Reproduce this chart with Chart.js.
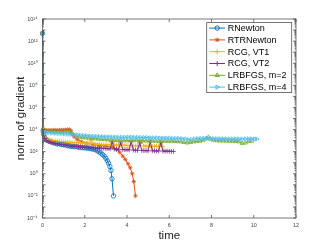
<!DOCTYPE html>
<html>
<head>
<meta charset="utf-8">
<script src="https://cdn.jsdelivr.net/npm/chart.js@4.4.1/dist/chart.umd.min.js"></script>
<style>
html, body { margin: 0; padding: 0; background: #fff; }
canvas { display: block; }
</style>
</head>
<body>
<canvas id="gradChart" width="327" height="245"></canvas>
<script>
// values: time (x) and norm of gradient (y)
const tRNewton = [0, 0.03, 0.06, 0.1, 0.15, 0.2, 0.3, 0.4, 0.5, 0.6,
    0.7, 0.8, 0.9, 1.0, 1.1, 1.2, 1.3, 1.4, 1.5, 1.6,
    1.7, 1.8, 1.9, 2.0, 2.1, 2.2, 2.3, 2.4, 2.5, 2.6,
    2.68, 2.76, 2.84, 2.92, 3.0, 3.07, 3.13, 3.19, 3.24, 3.29,
    3.36];
const gRNewton = [5e12, 8e3, 3.5e3, 2e3, 1.3e3, 1.1e3, 9e2, 8e2, 6.5e2, 6e2,
    5e2, 5.5e2, 4.5e2, 4.2e2, 4e2, 3.4e2, 3.2e2, 3e2, 2.8e2, 2.9e2,
    2.5e2, 2.4e2, 2.3e2, 2.2e2, 2.1e2, 2e2, 1.8e2, 1.7e2, 1.5e2, 1.2e2,
    95, 75, 55, 40, 25, 15, 9, 4.5, 2, 0.35,
    0.01];

const tRTRNewton = [0, 0.03, 0.1, 0.2, 0.3, 0.4, 0.5, 0.6, 0.7, 0.8,
    0.9, 1.0, 1.1, 1.2, 1.28, 1.34, 1.4, 1.5, 1.65, 1.85,
    2.1, 2.4, 2.7, 3.0, 3.3, 3.5, 3.65, 3.8, 3.92, 4.05,
    4.15, 4.25, 4.32, 4.4];
const gRTRNewton = [5e12, 1.25e4, 9e3, 8.5e3, 8.7e3, 8.5e3, 8.8e3, 9e3, 8.5e3, 9e3,
    9.2e3, 9e3, 9.5e3, 1e4, 1e4, 8e3, 4.5e3, 2.2e3, 1.25e3, 8e2,
    5.6e2, 4.5e2, 3.5e2, 3.2e2, 2.5e2, 1.6e2, 90, 40, 20, 8,
    3.5, 1, 0.2, 0.01];

const tRCG1 = [0, 0.04, 0.1, 0.2, 0.3, 0.4, 0.5, 0.6, 0.7, 0.8,
    0.9, 1.0, 1.1, 1.2, 1.3, 1.4, 1.5, 1.6, 1.7, 1.8,
    1.9, 2.0, 2.1, 2.2, 2.3, 2.4, 2.5, 2.6, 2.7, 2.8,
    2.9, 3.0, 3.1, 3.2, 3.3, 3.4, 3.5, 3.6, 3.7, 3.8,
    3.9, 4.0, 4.1, 4.2, 4.3, 4.4, 4.5, 4.6, 4.7, 4.8,
    4.9, 5.0, 5.1, 5.2, 5.3, 5.4, 5.5, 5.6, 5.7];
const gRCG1 = [5e12, 6.3e3, 2e3, 1.4e3, 1.2e3, 1.1e3, 1e3, 9.5e2, 9e2, 8.5e2,
    8e2, 7.8e2, 7.6e2, 7.2e2, 7e2, 6.8e2, 6.6e2, 6.5e2, 6.3e2, 6.2e2,
    6e2, 5.8e2, 5.6e2, 5.4e2, 1e3, 5.2e2, 5e2, 4.8e2, 4.7e2, 4.5e2,
    4.4e2, 4.3e2, 4.3e2, 4.2e2, 9e2, 4e2, 4e2, 4e2, 3.9e2, 3.8e2,
    3.8e2, 3.7e2, 3.6e2, 3.5e2, 3.5e2, 3.5e2, 3.4e2, 3.3e2, 8e2, 3.2e2,
    3.2e2, 3.2e2, 3.1e2, 3e2, 3.1e2, 3.2e2, 3e2, 7e2, 2.8e2];

const tRCG2 = [0, 0.04, 0.1, 0.2, 0.3, 0.4, 0.5, 0.6, 0.7, 0.8,
    0.9, 1.0, 1.1, 1.2, 1.3, 1.4, 1.5, 1.6, 1.7, 1.8,
    1.9, 2.0, 2.1, 2.2, 2.3, 2.4, 2.5, 2.6, 2.7, 2.8,
    2.9, 3.0, 3.1, 3.2, 3.3, 3.4, 3.5, 3.6, 3.7, 3.8,
    3.9, 4.0, 4.1, 4.2, 4.3, 4.4, 4.5, 4.6, 4.7, 4.8,
    4.9, 5.0, 5.1, 5.2, 5.3, 5.4, 5.5, 5.6, 5.7, 5.8,
    5.9, 6.0, 6.1, 6.2];
const gRCG2 = [5e12, 5e3, 1.6e3, 1e3, 8e2, 7e2, 6e2, 5.6e2, 5e2, 4.8e2,
    4.5e2, 4.2e2, 4e2, 3.7e2, 3.5e2, 3.3e2, 3.2e2, 3e2, 2.8e2, 2.7e2,
    2.6e2, 2.5e2, 2.5e2, 2.4e2, 2.3e2, 2.3e2, 2.2e2, 2.2e2, 2.1e2, 2e2,
    2e2, 1.9e2, 1.9e2, 1.8e2, 8e2, 1.7e2, 1.65e2, 1.6e2, 6.3e2, 1.55e2,
    1.5e2, 1.5e2, 1.45e2, 8e2, 1.4e2, 1.35e2, 1.3e2, 6.3e2, 1.3e2, 1.25e2,
    1.25e2, 1.2e2, 8e2, 1.2e2, 1.2e2, 1.15e2, 1.15e2, 6.3e2, 1.15e2, 1.1e2,
    1.1e2, 1.1e2, 1.05e2, 1.05e2];

const tLBFGS2 = [0, 0.04, 0.15, 0.3, 0.45, 0.6, 0.75, 0.9, 1.05, 1.2,
    1.32, 1.45, 1.6, 1.75, 1.9, 2.05, 2.2, 2.35, 2.5, 2.65,
    2.8, 2.95, 3.1, 3.25, 3.4, 3.55, 3.7, 3.85, 4.0, 4.15,
    4.3, 4.45, 4.6, 4.75, 4.9, 5.05, 5.2, 5.35, 5.5, 5.65,
    5.8, 5.95, 6.1, 6.25, 6.4, 6.55, 6.7, 6.85, 7.0, 7.15,
    7.3, 7.45, 7.6, 7.75, 7.85, 7.95, 8.1, 8.25, 8.4, 8.55,
    8.7, 8.85, 9.0, 9.15, 9.3, 9.45, 9.6, 9.75, 9.9];
const gLBFGS2 = [5e12, 8.9e3, 7e3, 6.5e3, 6.3e3, 6e3, 6e3, 5.8e3, 6e3, 6.3e3,
    6e3, 3.5e3, 2.5e3, 2.1e3, 1.9e3, 1.8e3, 1.7e3, 1.6e3, 1.5e3, 1.4e3,
    1.3e3, 1.25e3, 1.2e3, 1.1e3, 1.1e3, 1.05e3, 1.1e3, 1e3, 1e3, 1.05e3,
    1e3, 1.1e3, 1e3, 1e3, 9.5e2, 9.5e2, 9.3e2, 9e2, 9e2, 9.5e2,
    9e2, 8.8e2, 9e2, 8.5e2, 8.3e2, 8e2, 7e2, 6.3e2, 7e2, 8e2,
    8.5e2, 9e2, 1.1e3, 1.5e3, 2e3, 1.4e3, 1.1e3, 1e3, 9.5e2, 9.5e2,
    9.3e2, 9e2, 9e2, 8.5e2, 8e2, 5.6e2, 6.3e2, 8.5e2, 9e2];

const tLBFGS4 = [0, 0.04, 0.15, 0.3, 0.45, 0.6, 0.75, 0.9, 1.05, 1.2,
    1.35, 1.5, 1.65, 1.8, 1.95, 2.1, 2.25, 2.4, 2.55, 2.7,
    2.85, 3.0, 3.15, 3.3, 3.45, 3.6, 3.75, 3.9, 4.05, 4.2,
    4.35, 4.5, 4.65, 4.8, 4.95, 5.1, 5.25, 5.4, 5.55, 5.7,
    5.85, 6.0, 6.15, 6.3, 6.45, 6.6, 6.75, 6.9, 7.05, 7.2,
    7.35, 7.5, 7.65, 7.8, 7.95, 8.1, 8.25, 8.4, 8.55, 8.7,
    8.85, 9.0, 9.15, 9.3, 9.45, 9.6, 9.75, 9.9, 10.05, 10.15];
const gLBFGS4 = [5e12, 7.9e3, 5.6e3, 5.2e3, 4.8e3, 4.5e3, 4.3e3, 4.1e3, 4e3, 3.8e3,
    3.7e3, 3.5e3, 3.3e3, 3.1e3, 2.9e3, 2.8e3, 2.6e3, 2.5e3, 2.5e3, 2.4e3,
    2.3e3, 2.2e3, 2.2e3, 2.1e3, 2.1e3, 2e3, 2e3, 2e3, 2.1e3, 2.1e3,
    2e3, 2e3, 1.9e3, 1.9e3, 1.9e3, 1.8e3, 1.8e3, 1.8e3, 1.7e3, 1.7e3,
    1.7e3, 1.7e3, 1.6e3, 1.6e3, 1.6e3, 1.5e3, 1.4e3, 1.25e3, 1.3e3, 1.45e3,
    1.55e3, 1.6e3, 1.6e3, 1.6e3, 1.55e3, 1.5e3, 1.5e3, 1.5e3, 1.45e3, 1.4e3,
    1.4e3, 1.4e3, 1.45e3, 1.4e3, 1.4e3, 1.45e3, 1.5e3, 1.45e3, 1.4e3, 1.4e3];

const seriesNames = ['RNewton', 'RTRNewton', 'RCG, VT1', 'RCG, VT2', 'LRBFGS, m=2', 'LRBFGS, m=4'];
const xTicks = [0, 2, 4, 6, 8, 10, 12];
const yTicks = [1e-4, 1e-2, 1e0, 1e2, 1e4, 1e6, 1e8, 1e10, 1e12, 1e14];
const yTickLabels = ['10⁻⁴', '10⁻²', '10⁰', '10²', '10⁴', '10⁶', '10⁸', '10¹⁰', '10¹²', '10¹⁴'];

const colors = ['#0072BD', '#D95319', '#EDB120', '#7E2F8E', '#77AC30', '#4DBEEE'];
const markers = [
    { style: 'circle', rot: 0, r: 2.2 },
    { style: 'star', rot: 0, r: 2.2 },
    { style: 'cross', rot: 0, r: 2.4 },
    { style: 'cross', rot: 0, r: 2.4 },
    { style: 'triangle', rot: 0, r: 2.4 },
    { style: 'triangle', rot: 90, r: 2.4 }
];

function pairs(ts, gs) {
    return ts.map((t, i) => ({ x: t, y: gs[i] }));
}

const allData = [
    pairs(tRNewton, gRNewton),
    pairs(tRTRNewton, gRTRNewton),
    pairs(tRCG1, gRCG1),
    pairs(tRCG2, gRCG2),
    pairs(tLBFGS2, gLBFGS2),
    pairs(tLBFGS4, gLBFGS4)
];

const FONT = "'Liberation Sans', Arial, Helvetica, sans-serif";

// box, inward ticks and legend the way MATLAB draws them
const matlabAxes = {
    id: 'matlabAxes',
    afterDraw(chart) {
        const { ctx, chartArea: a, scales } = chart;
        const x = scales.x, y = scales.y;
        ctx.save();
        ctx.strokeStyle = '#555';
        ctx.lineWidth = 0.8;
        ctx.strokeRect(a.left, a.top, a.right - a.left, a.bottom - a.top);
        ctx.beginPath();
        xTicks.forEach(v => {
            const px = x.getPixelForValue(v);
            ctx.moveTo(px, a.bottom); ctx.lineTo(px, a.bottom - 3);
            ctx.moveTo(px, a.top); ctx.lineTo(px, a.top + 3);
        });
        for (let e = -4; e <= 14; e++) {
            for (let k = 1; k < 10; k++) {
                const v = k * Math.pow(10, e);
                if (v > 1e14) break;
                const py = y.getPixelForValue(v);
                const len = k === 1 ? 3 : 1.5;
                ctx.moveTo(a.left, py); ctx.lineTo(a.left + len, py);
                ctx.moveTo(a.right, py); ctx.lineTo(a.right - len, py);
            }
        }
        ctx.stroke();

        // legend
        const lw = 85, lh = 70;
        const lx = a.right - 4.3 - lw, ly = a.top + 3.6;
        ctx.fillStyle = '#fff';
        ctx.fillRect(lx, ly, lw, lh);
        ctx.strokeStyle = '#555';
        ctx.lineWidth = 0.8;
        ctx.strokeRect(lx, ly, lw, lh);
        ctx.font = '9px ' + FONT;
        ctx.textBaseline = 'middle';
        seriesNames.forEach((name, i) => {
            const cy = ly + 5.5 + i * 11.8;
            ctx.strokeStyle = colors[i];
            ctx.lineWidth = 1;
            ctx.beginPath();
            ctx.moveTo(lx + 2.6, cy); ctx.lineTo(lx + 18.3, cy);
            ctx.stroke();
            ctx.fillStyle = 'rgba(0,0,0,0)';
            Chart.helpers.drawPoint(ctx, {
                pointStyle: markers[i].style, rotation: markers[i].rot,
                radius: markers[i].r, borderWidth: 0.8
            }, lx + 10.5, cy);
            ctx.fillStyle = '#000';
            ctx.fillText(name, lx + 21, cy + 0.5);
        });
        ctx.restore();
    }
};

const datasets = seriesNames.map((name, i) => ({
    label: name,
    data: allData[i],
    borderColor: colors[i],
    borderWidth: 1,
    pointStyle: markers[i].style,
    pointRotation: markers[i].rot,
    pointRadius: markers[i].r,
    pointBorderWidth: 0.8,
    pointBorderColor: colors[i],
    pointBackgroundColor: 'rgba(0,0,0,0)',
    showLine: true,
    tension: 0,
    clip: 5,
    order: seriesNames.length - i
}));

const ctx = document.getElementById('gradChart').getContext('2d');
const gradChart = new Chart(ctx, {
    type: 'line',
    data: { datasets: datasets },
    plugins: [matlabAxes],
    options: {
        responsive: false,
        animation: false,
        devicePixelRatio: 1,
        layout: { padding: { left: 10, right: 31, top: 19, bottom: 0 } },
        plugins: { legend: { display: false }, tooltip: { enabled: false } },
        scales: {
            x: {
                type: 'linear',
                min: 0,
                max: 12,
                afterBuildTicks: (s) => { s.ticks = xTicks.map(v => ({ value: v })); },
                afterFit: (s) => { s.height = 27; },
                grid: { display: false, drawTicks: false },
                border: { display: false },
                ticks: { font: { size: 5.5, family: FONT }, color: '#444', padding: 4, maxRotation: 0 },
                title: { display: true, text: 'time', font: { size: 11.5, family: FONT }, color: '#222', padding: { top: 0, bottom: 2 } }
            },
            y: {
                type: 'logarithmic',
                min: 1e-4,
                max: 1e14,
                afterBuildTicks: (s) => { s.ticks = yTicks.map(v => ({ value: v })); },
                afterFit: (s) => { s.width = 32.5; },
                grid: { display: false, drawTicks: false },
                border: { display: false },
                ticks: {
                    font: { size: 5.5, family: FONT }, color: '#444', padding: 5,
                    callback: (v, idx) => yTickLabels[idx]
                },
                title: { display: true, text: 'norm of gradient', font: { size: 11.5, family: FONT }, color: '#222', padding: { top: 4, bottom: 0 } }
            }
        }
    }
});
</script>
</body>
</html>
